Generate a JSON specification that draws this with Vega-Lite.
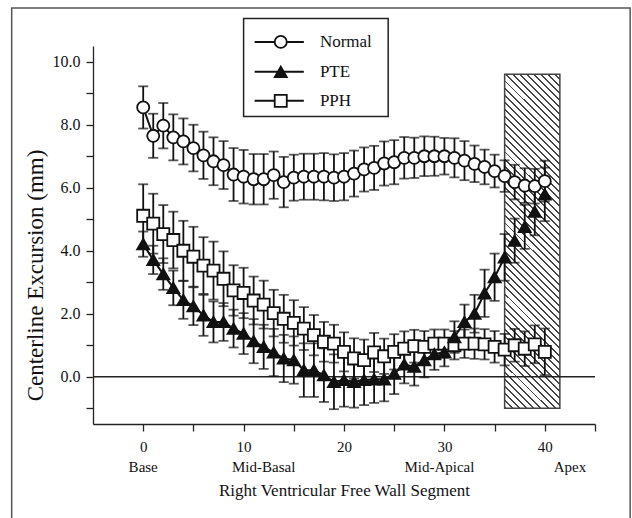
{
  "$schema": "https://vega.github.io/schema/vega-lite/v6.json",
  "width": 502,
  "height": 378,
  "autosize": "none",
  "padding": {"left": 93, "top": 46, "right": 37, "bottom": 94},
  "background": "white",
  "config": {
    "view": {"stroke": null},
    "font": "Liberation Serif",
    "axis": {"grid": false, "domainColor": "#222", "domainWidth": 1.3, "tickColor": "#222", "tickWidth": 1.3, "tickSize": 7, "labelFont": "Liberation Serif", "labelColor": "#111", "titleFont": "Liberation Serif", "titleColor": "#111", "titleFontWeight": "normal", "labelOverlap": false}
  },
  "datasets": {
    "main": [
      {"seg":0,"series":"PPH","v":5.11,"e":1.0},{"seg":1,"series":"PPH","v":4.86,"e":0.95},{"seg":2,"series":"PPH","v":4.53,"e":0.92},{"seg":3,"series":"PPH","v":4.34,"e":0.9},{"seg":4,"series":"PPH","v":4.0,"e":0.95},{"seg":5,"series":"PPH","v":3.81,"e":0.95},{"seg":6,"series":"PPH","v":3.53,"e":0.9},{"seg":7,"series":"PPH","v":3.37,"e":0.92},{"seg":8,"series":"PPH","v":3.11,"e":0.87},{"seg":9,"series":"PPH","v":2.74,"e":0.8},{"seg":10,"series":"PPH","v":2.66,"e":0.8},{"seg":11,"series":"PPH","v":2.42,"e":0.76},{"seg":12,"series":"PPH","v":2.29,"e":0.76},{"seg":13,"series":"PPH","v":2.02,"e":0.74},{"seg":14,"series":"PPH","v":1.84,"e":0.76},{"seg":15,"series":"PPH","v":1.71,"e":0.72},{"seg":16,"series":"PPH","v":1.53,"e":0.68},{"seg":17,"series":"PPH","v":1.32,"e":0.64},{"seg":18,"series":"PPH","v":1.11,"e":0.63},{"seg":19,"series":"PPH","v":1.05,"e":0.6},{"seg":20,"series":"PPH","v":0.79,"e":0.62},{"seg":21,"series":"PPH","v":0.58,"e":0.64},{"seg":22,"series":"PPH","v":0.53,"e":0.65},{"seg":23,"series":"PPH","v":0.77,"e":0.62},{"seg":24,"series":"PPH","v":0.65,"e":0.56},{"seg":25,"series":"PPH","v":0.79,"e":0.56},{"seg":26,"series":"PPH","v":0.89,"e":0.55},{"seg":27,"series":"PPH","v":0.97,"e":0.52},{"seg":28,"series":"PPH","v":0.95,"e":0.5},{"seg":29,"series":"PPH","v":1.05,"e":0.45},{"seg":30,"series":"PPH","v":1.05,"e":0.45},{"seg":31,"series":"PPH","v":1.0,"e":0.45},{"seg":32,"series":"PPH","v":1.05,"e":0.45},{"seg":33,"series":"PPH","v":1.05,"e":0.48},{"seg":34,"series":"PPH","v":1.03,"e":0.48},{"seg":35,"series":"PPH","v":0.95,"e":0.5},{"seg":36,"series":"PPH","v":0.86,"e":0.5},{"seg":37,"series":"PPH","v":1.0,"e":0.52},{"seg":38,"series":"PPH","v":0.89,"e":0.55},{"seg":39,"series":"PPH","v":1.03,"e":0.6},{"seg":40,"series":"PPH","v":0.79,"e":0.74},
      {"seg":0,"series":"Normal","v":8.55,"e":0.67},{"seg":1,"series":"Normal","v":7.65,"e":0.7},{"seg":2,"series":"Normal","v":7.97,"e":0.72},{"seg":3,"series":"Normal","v":7.6,"e":0.73},{"seg":4,"series":"Normal","v":7.47,"e":0.73},{"seg":5,"series":"Normal","v":7.26,"e":0.74},{"seg":6,"series":"Normal","v":7.03,"e":0.75},{"seg":7,"series":"Normal","v":6.84,"e":0.76},{"seg":8,"series":"Normal","v":6.72,"e":0.76},{"seg":9,"series":"Normal","v":6.42,"e":0.84},{"seg":10,"series":"Normal","v":6.35,"e":0.85},{"seg":11,"series":"Normal","v":6.27,"e":0.8},{"seg":12,"series":"Normal","v":6.27,"e":0.8},{"seg":13,"series":"Normal","v":6.4,"e":0.75},{"seg":14,"series":"Normal","v":6.18,"e":0.8},{"seg":15,"series":"Normal","v":6.32,"e":0.73},{"seg":16,"series":"Normal","v":6.35,"e":0.73},{"seg":17,"series":"Normal","v":6.35,"e":0.73},{"seg":18,"series":"Normal","v":6.35,"e":0.75},{"seg":19,"series":"Normal","v":6.32,"e":0.74},{"seg":20,"series":"Normal","v":6.35,"e":0.75},{"seg":21,"series":"Normal","v":6.45,"e":0.73},{"seg":22,"series":"Normal","v":6.58,"e":0.7},{"seg":23,"series":"Normal","v":6.63,"e":0.7},{"seg":24,"series":"Normal","v":6.77,"e":0.7},{"seg":25,"series":"Normal","v":6.81,"e":0.7},{"seg":26,"series":"Normal","v":6.95,"e":0.66},{"seg":27,"series":"Normal","v":6.95,"e":0.64},{"seg":28,"series":"Normal","v":7.0,"e":0.63},{"seg":29,"series":"Normal","v":7.0,"e":0.62},{"seg":30,"series":"Normal","v":7.0,"e":0.58},{"seg":31,"series":"Normal","v":6.95,"e":0.62},{"seg":32,"series":"Normal","v":6.86,"e":0.62},{"seg":33,"series":"Normal","v":6.76,"e":0.58},{"seg":34,"series":"Normal","v":6.66,"e":0.55},{"seg":35,"series":"Normal","v":6.53,"e":0.52},{"seg":36,"series":"Normal","v":6.37,"e":0.5},{"seg":37,"series":"Normal","v":6.18,"e":0.55},{"seg":38,"series":"Normal","v":6.07,"e":0.55},{"seg":39,"series":"Normal","v":6.05,"e":0.55},{"seg":40,"series":"Normal","v":6.21,"e":0.65},
      {"seg":0,"series":"PTE","v":4.21,"e":0.4},{"seg":1,"series":"PTE","v":3.71,"e":0.45},{"seg":2,"series":"PTE","v":3.26,"e":0.5},{"seg":3,"series":"PTE","v":2.82,"e":0.55},{"seg":4,"series":"PTE","v":2.44,"e":0.6},{"seg":5,"series":"PTE","v":2.24,"e":0.6},{"seg":6,"series":"PTE","v":1.95,"e":0.65},{"seg":7,"series":"PTE","v":1.74,"e":0.65},{"seg":8,"series":"PTE","v":1.74,"e":0.6},{"seg":9,"series":"PTE","v":1.53,"e":0.6},{"seg":10,"series":"PTE","v":1.37,"e":0.65},{"seg":11,"series":"PTE","v":1.13,"e":0.7},{"seg":12,"series":"PTE","v":0.95,"e":0.7},{"seg":13,"series":"PTE","v":0.77,"e":0.75},{"seg":14,"series":"PTE","v":0.58,"e":0.75},{"seg":15,"series":"PTE","v":0.53,"e":0.75},{"seg":16,"series":"PTE","v":0.21,"e":0.85},{"seg":17,"series":"PTE","v":0.21,"e":0.85},{"seg":18,"series":"PTE","v":0.05,"e":0.85},{"seg":19,"series":"PTE","v":-0.16,"e":0.87},{"seg":20,"series":"PTE","v":-0.1,"e":0.85},{"seg":21,"series":"PTE","v":-0.16,"e":0.82},{"seg":22,"series":"PTE","v":-0.1,"e":0.8},{"seg":23,"series":"PTE","v":-0.08,"e":0.75},{"seg":24,"series":"PTE","v":-0.08,"e":0.7},{"seg":25,"series":"PTE","v":0.1,"e":0.65},{"seg":26,"series":"PTE","v":0.39,"e":0.6},{"seg":27,"series":"PTE","v":0.32,"e":0.6},{"seg":28,"series":"PTE","v":0.53,"e":0.55},{"seg":29,"series":"PTE","v":0.72,"e":0.5},{"seg":30,"series":"PTE","v":0.78,"e":0.45},{"seg":31,"series":"PTE","v":1.26,"e":0.5},{"seg":32,"series":"PTE","v":1.74,"e":0.55},{"seg":33,"series":"PTE","v":2.0,"e":0.6},{"seg":34,"series":"PTE","v":2.65,"e":0.75},{"seg":35,"series":"PTE","v":3.16,"e":0.75},{"seg":36,"series":"PTE","v":3.79,"e":0.74},{"seg":37,"series":"PTE","v":4.32,"e":0.7},{"seg":38,"series":"PTE","v":4.76,"e":0.7},{"seg":39,"series":"PTE","v":5.24,"e":0.75},{"seg":40,"series":"PTE","v":5.79,"e":0.85}
    ],
    "regions": [
      {"seg":0,"name":"Base"},{"seg":12,"name":"Mid-Basal"},{"seg":29.5,"name":"Mid-Apical"},{"seg":42.5,"name":"Apex"}
    ]
  },
  "encoding": {
    "x": {"type": "quantitative", "scale": {"domain": [-5, 45], "nice": false, "zero": false}},
    "y": {"type": "quantitative", "scale": {"domain": [-1.5, 10.5], "nice": false, "zero": false}}
  },
  "layer": [
    {
      "data": {"name": "main"},
      "mark": {"type": "line", "color": "#111", "strokeWidth": 2},
      "encoding": {
        "x": {"field": "seg", "type": "quantitative",
          "axis": {"values": [0,5,10,15,20,25,30,35,40,45], "tickCount": 30, "labelExpr": "datum.value % 10 == 0 ? datum.label : ''", "title": "Right Ventricular Free Wall Segment", "labelFontSize": 15, "labelPadding": 8, "titleFontSize": 17, "titlePadding": 28}},
        "y": {"field": "v", "type": "quantitative",
          "axis": {"values": [-1,0,1,2,3,4,5,6,7,8,9,10], "tickCount": 30, "format": ".1f", "labelExpr": "datum.value % 2 == 0 ? datum.label : ''", "title": "Centerline Excursion (mm)", "labelFontSize": 16, "labelPadding": 6, "titleFontSize": 23, "titleX": -51, "titleY": 229, "titleBaseline": "alphabetic"}},
        "detail": {"field": "series", "type": "nominal"}
      }
    },
    {
      "data": {"values": [{}]},
      "mark": {"type": "rect", "fill": null, "stroke": "#555", "strokeWidth": 1.5},
      "encoding": {"x": {"datum": -13.1, "type": "quantitative"}, "x2": {"datum": 48.5}, "y": {"datum": 11.71, "type": "quantitative"}, "y2": {"datum": -8}}
    },
    {
      "data": {"values": [{}]},
      "mark": {"type": "rect", "stroke": "#444", "strokeWidth": 1.5,
        "fill": {"gradient": "linear", "x1": 0, "y1": 1, "x2": 0.19, "y2": -0.15, "stops": [
          {"offset":0,"color":"#444"},{"offset":0.005,"color":"#444"},{"offset":0.005,"color":"#fff"},{"offset":0.018,"color":"#fff"},
          {"offset":0.018,"color":"#444"},{"offset":0.023,"color":"#444"},{"offset":0.023,"color":"#fff"},{"offset":0.036,"color":"#fff"},
          {"offset":0.036,"color":"#444"},{"offset":0.041,"color":"#444"},{"offset":0.041,"color":"#fff"},{"offset":0.054,"color":"#fff"},
          {"offset":0.054,"color":"#444"},{"offset":0.059,"color":"#444"},{"offset":0.059,"color":"#fff"},{"offset":0.072,"color":"#fff"},
          {"offset":0.072,"color":"#444"},{"offset":0.077,"color":"#444"},{"offset":0.077,"color":"#fff"},{"offset":0.09,"color":"#fff"},
          {"offset":0.09,"color":"#444"},{"offset":0.095,"color":"#444"},{"offset":0.095,"color":"#fff"},{"offset":0.108,"color":"#fff"},
          {"offset":0.108,"color":"#444"},{"offset":0.113,"color":"#444"},{"offset":0.113,"color":"#fff"},{"offset":0.126,"color":"#fff"},
          {"offset":0.126,"color":"#444"},{"offset":0.131,"color":"#444"},{"offset":0.131,"color":"#fff"},{"offset":0.144,"color":"#fff"},
          {"offset":0.144,"color":"#444"},{"offset":0.149,"color":"#444"},{"offset":0.149,"color":"#fff"},{"offset":0.162,"color":"#fff"},
          {"offset":0.162,"color":"#444"},{"offset":0.167,"color":"#444"},{"offset":0.167,"color":"#fff"},{"offset":0.18,"color":"#fff"},
          {"offset":0.18,"color":"#444"},{"offset":0.185,"color":"#444"},{"offset":0.185,"color":"#fff"},{"offset":0.198,"color":"#fff"},
          {"offset":0.198,"color":"#444"},{"offset":0.203,"color":"#444"},{"offset":0.203,"color":"#fff"},{"offset":0.216,"color":"#fff"},
          {"offset":0.216,"color":"#444"},{"offset":0.221,"color":"#444"},{"offset":0.221,"color":"#fff"},{"offset":0.234,"color":"#fff"},
          {"offset":0.234,"color":"#444"},{"offset":0.239,"color":"#444"},{"offset":0.239,"color":"#fff"},{"offset":0.252,"color":"#fff"},
          {"offset":0.252,"color":"#444"},{"offset":0.257,"color":"#444"},{"offset":0.257,"color":"#fff"},{"offset":0.27,"color":"#fff"},
          {"offset":0.27,"color":"#444"},{"offset":0.275,"color":"#444"},{"offset":0.275,"color":"#fff"},{"offset":0.288,"color":"#fff"},
          {"offset":0.288,"color":"#444"},{"offset":0.293,"color":"#444"},{"offset":0.293,"color":"#fff"},{"offset":0.306,"color":"#fff"},
          {"offset":0.306,"color":"#444"},{"offset":0.311,"color":"#444"},{"offset":0.311,"color":"#fff"},{"offset":0.324,"color":"#fff"},
          {"offset":0.324,"color":"#444"},{"offset":0.329,"color":"#444"},{"offset":0.329,"color":"#fff"},{"offset":0.342,"color":"#fff"},
          {"offset":0.342,"color":"#444"},{"offset":0.347,"color":"#444"},{"offset":0.347,"color":"#fff"},{"offset":0.36,"color":"#fff"},
          {"offset":0.36,"color":"#444"},{"offset":0.365,"color":"#444"},{"offset":0.365,"color":"#fff"},{"offset":0.378,"color":"#fff"},
          {"offset":0.378,"color":"#444"},{"offset":0.383,"color":"#444"},{"offset":0.383,"color":"#fff"},{"offset":0.396,"color":"#fff"},
          {"offset":0.396,"color":"#444"},{"offset":0.401,"color":"#444"},{"offset":0.401,"color":"#fff"},{"offset":0.414,"color":"#fff"},
          {"offset":0.414,"color":"#444"},{"offset":0.419,"color":"#444"},{"offset":0.419,"color":"#fff"},{"offset":0.432,"color":"#fff"},
          {"offset":0.432,"color":"#444"},{"offset":0.437,"color":"#444"},{"offset":0.437,"color":"#fff"},{"offset":0.45,"color":"#fff"},
          {"offset":0.45,"color":"#444"},{"offset":0.455,"color":"#444"},{"offset":0.455,"color":"#fff"},{"offset":0.468,"color":"#fff"},
          {"offset":0.468,"color":"#444"},{"offset":0.473,"color":"#444"},{"offset":0.473,"color":"#fff"},{"offset":0.486,"color":"#fff"},
          {"offset":0.486,"color":"#444"},{"offset":0.491,"color":"#444"},{"offset":0.491,"color":"#fff"},{"offset":0.504,"color":"#fff"},
          {"offset":0.504,"color":"#444"},{"offset":0.509,"color":"#444"},{"offset":0.509,"color":"#fff"},{"offset":0.522,"color":"#fff"},
          {"offset":0.522,"color":"#444"},{"offset":0.527,"color":"#444"},{"offset":0.527,"color":"#fff"},{"offset":0.54,"color":"#fff"},
          {"offset":0.54,"color":"#444"},{"offset":0.545,"color":"#444"},{"offset":0.545,"color":"#fff"},{"offset":0.558,"color":"#fff"},
          {"offset":0.558,"color":"#444"},{"offset":0.563,"color":"#444"},{"offset":0.563,"color":"#fff"},{"offset":0.576,"color":"#fff"},
          {"offset":0.576,"color":"#444"},{"offset":0.581,"color":"#444"},{"offset":0.581,"color":"#fff"},{"offset":0.594,"color":"#fff"},
          {"offset":0.594,"color":"#444"},{"offset":0.599,"color":"#444"},{"offset":0.599,"color":"#fff"},{"offset":0.612,"color":"#fff"},
          {"offset":0.612,"color":"#444"},{"offset":0.617,"color":"#444"},{"offset":0.617,"color":"#fff"},{"offset":0.63,"color":"#fff"},
          {"offset":0.63,"color":"#444"},{"offset":0.635,"color":"#444"},{"offset":0.635,"color":"#fff"},{"offset":0.648,"color":"#fff"},
          {"offset":0.648,"color":"#444"},{"offset":0.653,"color":"#444"},{"offset":0.653,"color":"#fff"},{"offset":0.666,"color":"#fff"},
          {"offset":0.666,"color":"#444"},{"offset":0.671,"color":"#444"},{"offset":0.671,"color":"#fff"},{"offset":0.684,"color":"#fff"},
          {"offset":0.684,"color":"#444"},{"offset":0.689,"color":"#444"},{"offset":0.689,"color":"#fff"},{"offset":0.702,"color":"#fff"},
          {"offset":0.702,"color":"#444"},{"offset":0.707,"color":"#444"},{"offset":0.707,"color":"#fff"},{"offset":0.72,"color":"#fff"},
          {"offset":0.72,"color":"#444"},{"offset":0.725,"color":"#444"},{"offset":0.725,"color":"#fff"},{"offset":0.738,"color":"#fff"},
          {"offset":0.738,"color":"#444"},{"offset":0.743,"color":"#444"},{"offset":0.743,"color":"#fff"},{"offset":0.756,"color":"#fff"},
          {"offset":0.756,"color":"#444"},{"offset":0.761,"color":"#444"},{"offset":0.761,"color":"#fff"},{"offset":0.774,"color":"#fff"},
          {"offset":0.774,"color":"#444"},{"offset":0.779,"color":"#444"},{"offset":0.779,"color":"#fff"},{"offset":0.792,"color":"#fff"},
          {"offset":0.792,"color":"#444"},{"offset":0.797,"color":"#444"},{"offset":0.797,"color":"#fff"},{"offset":0.81,"color":"#fff"},
          {"offset":0.81,"color":"#444"},{"offset":0.815,"color":"#444"},{"offset":0.815,"color":"#fff"},{"offset":0.828,"color":"#fff"},
          {"offset":0.828,"color":"#444"},{"offset":0.833,"color":"#444"},{"offset":0.833,"color":"#fff"},{"offset":0.846,"color":"#fff"},
          {"offset":0.846,"color":"#444"},{"offset":0.851,"color":"#444"},{"offset":0.851,"color":"#fff"},{"offset":0.864,"color":"#fff"},
          {"offset":0.864,"color":"#444"},{"offset":0.869,"color":"#444"},{"offset":0.869,"color":"#fff"},{"offset":0.882,"color":"#fff"},
          {"offset":0.882,"color":"#444"},{"offset":0.887,"color":"#444"},{"offset":0.887,"color":"#fff"},{"offset":0.9,"color":"#fff"},
          {"offset":0.9,"color":"#444"},{"offset":0.905,"color":"#444"},{"offset":0.905,"color":"#fff"},{"offset":0.918,"color":"#fff"},
          {"offset":0.918,"color":"#444"},{"offset":0.923,"color":"#444"},{"offset":0.923,"color":"#fff"},{"offset":0.936,"color":"#fff"},
          {"offset":0.936,"color":"#444"},{"offset":0.941,"color":"#444"},{"offset":0.941,"color":"#fff"},{"offset":0.954,"color":"#fff"},
          {"offset":0.954,"color":"#444"},{"offset":0.959,"color":"#444"},{"offset":0.959,"color":"#fff"},{"offset":0.972,"color":"#fff"},
          {"offset":0.972,"color":"#444"},{"offset":0.977,"color":"#444"},{"offset":0.977,"color":"#fff"},{"offset":0.99,"color":"#fff"},
          {"offset":0.99,"color":"#444"},{"offset":0.995,"color":"#444"},{"offset":0.995,"color":"#fff"},{"offset":1,"color":"#fff"}
        ]}},
      "encoding": {"x": {"datum": 36, "type": "quantitative"}, "x2": {"datum": 41.5}, "y": {"datum": 9.6, "type": "quantitative"}, "y2": {"datum": -1}}
    },
    {
      "data": {"values": [{}]},
      "mark": {"type": "rule", "color": "#222", "strokeWidth": 1.3},
      "encoding": {"y": {"datum": 0, "type": "quantitative"}}
    },
    {
      "data": {"name": "main"},
      "mark": {"type": "errorbar", "color": "#111", "thickness": 1.8, "ticks": {"size": 10, "thickness": 1.8}},
      "encoding": {
        "x": {"field": "seg", "type": "quantitative"},
        "y": {"field": "v", "type": "quantitative", "title": "Centerline Excursion (mm)"},
        "yError": {"field": "e"},
        "detail": {"field": "series", "type": "nominal"}
      }
    },
    {
      "data": {"name": "main"},
      "mark": {"type": "point", "filled": true, "stroke": "#111", "strokeWidth": 1.8, "size": 145, "opacity": 1},
      "encoding": {
        "x": {"field": "seg", "type": "quantitative"},
        "y": {"field": "v", "type": "quantitative"},
        "shape": {"field": "series", "type": "nominal", "scale": {"domain": ["Normal", "PTE", "PPH"], "range": ["circle", "triangle-up", "square"]}, "legend": null},
        "fill": {"field": "series", "type": "nominal", "scale": {"domain": ["Normal", "PTE", "PPH"], "range": ["#ffffff", "#111111", "#ffffff"]}, "legend": null}
      }
    },
    {
      "data": {"name": "regions"},
      "mark": {"type": "text", "font": "Liberation Serif", "fontSize": 15, "color": "#111", "baseline": "alphabetic", "dy": 48},
      "encoding": {
        "x": {"field": "seg", "type": "quantitative"},
        "y": {"datum": -1.5, "type": "quantitative"},
        "text": {"field": "name"}
      }
    },
    {
      "data": {"values": [{}]},
      "mark": {"type": "rect", "fill": "white", "stroke": "#222", "strokeWidth": 1.5},
      "encoding": {"x": {"datum": 10.0, "type": "quantitative"}, "x2": {"datum": 24.4}, "y": {"datum": 11.37, "type": "quantitative"}, "y2": {"datum": 8.26}}
    },
    {
      "data": {"values": [{"series": "Normal"}]},
      "encoding": {"y": {"datum": 10.63, "type": "quantitative"}},
      "layer": [
        {"mark": {"type": "rule", "color": "#111", "strokeWidth": 2}, "encoding": {"x": {"datum": 11.1, "type": "quantitative"}, "x2": {"datum": 16.0}}},
        {"mark": {"type": "point", "shape": "circle", "filled": true, "fill": "#ffffff", "stroke": "#111", "strokeWidth": 1.8, "size": 145, "opacity": 1}, "encoding": {"x": {"datum": 13.7, "type": "quantitative"}}},
        {"mark": {"type": "text", "align": "left", "baseline": "middle", "font": "Liberation Serif", "fontSize": 17, "color": "#111"}, "encoding": {"x": {"datum": 17.6, "type": "quantitative"}, "text": {"field": "series"}}}
      ]
    },
    {
      "data": {"values": [{"series": "PTE"}]},
      "encoding": {"y": {"datum": 9.68, "type": "quantitative"}},
      "layer": [
        {"mark": {"type": "rule", "color": "#111", "strokeWidth": 2}, "encoding": {"x": {"datum": 11.1, "type": "quantitative"}, "x2": {"datum": 16.0}}},
        {"mark": {"type": "point", "shape": "triangle-up", "filled": true, "fill": "#111", "stroke": "#111", "strokeWidth": 1.8, "size": 145, "opacity": 1}, "encoding": {"x": {"datum": 13.7, "type": "quantitative"}}},
        {"mark": {"type": "text", "align": "left", "baseline": "middle", "font": "Liberation Serif", "fontSize": 17, "color": "#111"}, "encoding": {"x": {"datum": 17.6, "type": "quantitative"}, "text": {"field": "series"}}}
      ]
    },
    {
      "data": {"values": [{"series": "PPH"}]},
      "encoding": {"y": {"datum": 8.76, "type": "quantitative"}},
      "layer": [
        {"mark": {"type": "rule", "color": "#111", "strokeWidth": 2}, "encoding": {"x": {"datum": 11.1, "type": "quantitative"}, "x2": {"datum": 16.0}}},
        {"mark": {"type": "point", "shape": "square", "filled": true, "fill": "#ffffff", "stroke": "#111", "strokeWidth": 1.8, "size": 145, "opacity": 1}, "encoding": {"x": {"datum": 13.7, "type": "quantitative"}}},
        {"mark": {"type": "text", "align": "left", "baseline": "middle", "font": "Liberation Serif", "fontSize": 17, "color": "#111"}, "encoding": {"x": {"datum": 17.6, "type": "quantitative"}, "text": {"field": "series"}}}
      ]
    }
  ]
}
